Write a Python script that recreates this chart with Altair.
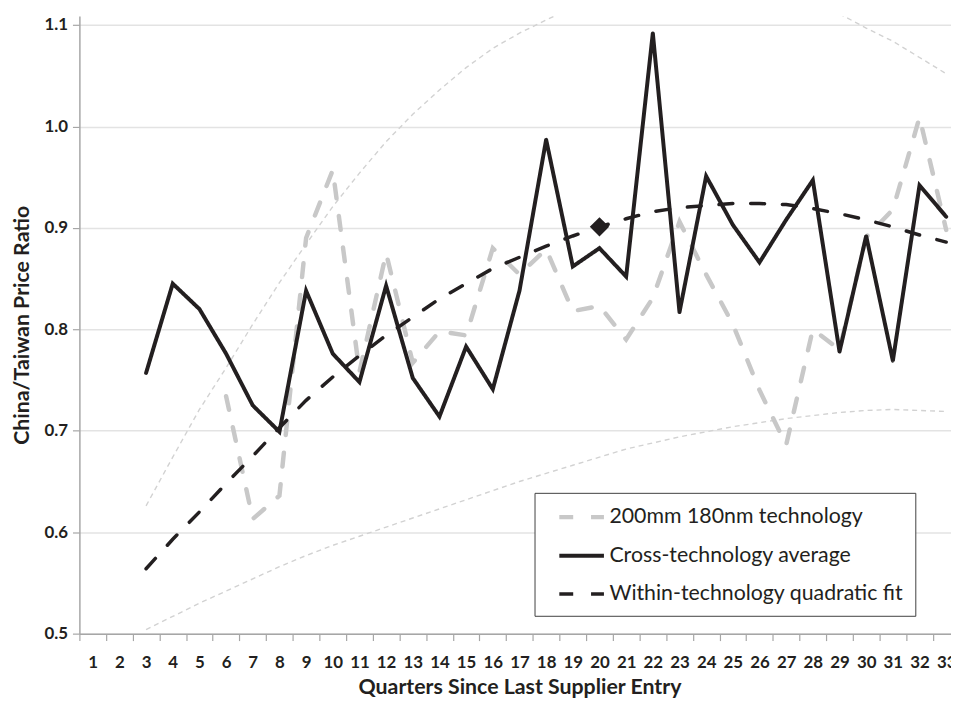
import altair as alt
import pandas as pd

# ---------------- data ----------------
avg_quarters = list(range(3, 34))
avg_values = [0.757, 0.845, 0.820, 0.776, 0.725, 0.699, 0.838, 0.776, 0.748, 0.843,
              0.752, 0.714, 0.783, 0.741, 0.838, 0.987, 0.862, 0.880, 0.852, 1.092,
              0.817, 0.951, 0.903, 0.866, 0.908, 0.947, 0.778, 0.892, 0.769, 0.942,
              0.911]

tech_quarters = list(range(6, 34))
tech_values = [0.734, 0.613, 0.636, 0.890, 0.957, 0.758, 0.875, 0.767, 0.798, 0.794,
               0.880, 0.854, 0.879, 0.818, 0.823, 0.790, 0.831, 0.906, 0.854, 0.805,
               0.740, 0.686, 0.800, 0.780, 0.891, 0.918, 1.009, 0.898]

fit_quarters = list(range(3, 34))
fit_values = [0.564, 0.593, 0.620, 0.648, 0.675, 0.703, 0.730, 0.753, 0.774, 0.794,
              0.812, 0.830, 0.845, 0.860, 0.871, 0.882, 0.892, 0.901, 0.909, 0.916,
              0.920, 0.922, 0.924, 0.924, 0.923, 0.919, 0.914, 0.908, 0.901, 0.893,
              0.886]

ci_quarters = list(range(3, 34))
ci_upper = [0.626, 0.674, 0.721, 0.762, 0.805, 0.846, 0.884, 0.921, 0.954, 0.985,
            1.012, 1.036, 1.058, 1.077, 1.092, 1.105, 1.117, 1.126, 1.136, 1.145,
            1.146, 1.147, 1.144, 1.139, 1.132, 1.123, 1.111, 1.097, 1.084, 1.068,
            1.052]
ci_lower = [0.504, 0.517, 0.530, 0.542, 0.554, 0.566, 0.577, 0.587, 0.596, 0.605,
            0.614, 0.623, 0.632, 0.641, 0.650, 0.658, 0.666, 0.674, 0.682, 0.688,
            0.694, 0.699, 0.704, 0.708, 0.712, 0.715, 0.718, 0.720, 0.721, 0.720,
            0.719]

marker_quarter = [20]
marker_value = [0.901]

series_names = ["200mm 180nm technology", "Cross-technology average",
                "Within-technology quadratic fit"]
x_ticks = list(range(1, 34))
y_ticks = [0.5, 0.6, 0.7, 0.8, 0.9, 1.0, 1.1]

# ---------------- tables ----------------
main_df = pd.concat([
    pd.DataFrame({"q": tech_quarters, "v": tech_values, "series": series_names[0], "o": 0}),
    pd.DataFrame({"q": avg_quarters, "v": avg_values, "series": series_names[1], "o": 1}),
    pd.DataFrame({"q": fit_quarters, "v": fit_values, "series": series_names[2], "o": 2}),
], ignore_index=True)

ci_df = pd.concat([
    pd.DataFrame({"q": ci_quarters, "v": ci_upper, "bound": "upper"}),
    pd.DataFrame({"q": ci_quarters, "v": ci_lower, "bound": "lower"}),
], ignore_index=True)

marker_df = pd.DataFrame({"q": marker_quarter, "v": marker_value})

FONT = "Lato"
INK = "#231f20"
W = 879
H = 623
X_MAX = 33.18
UNIT = W / (X_MAX - 0.5)
NBSP = "\u00a0"

x_scale = alt.Scale(domain=[0.5, X_MAX], nice=False, zero=False)
y_scale = alt.Scale(domain=[0.5, 1.109], nice=False, zero=False)

x_axis = alt.Axis(values=x_ticks, tickOffset=-UNIT / 2, labelOffset=UNIT / 2,
                  grid=False, tickSize=7, tickColor="#a6a6a6", domainColor="#a6a6a6",
                  domainWidth=1.5, tickWidth=1.2, labelFont=FONT, labelFontWeight="bold",
                  labelFontSize=17, labelColor=INK, labelPadding=14, labelFlush=False,
                  labelOverlap=False, title="Quarters Since Last Supplier Entry",
                  titleFont=FONT, titleFontWeight="bold", titleFontSize=21.5,
                  titleColor=INK, titlePadding=6, titleX=33 * UNIT / 2)

y_axis = alt.Axis(values=y_ticks, format=".1f", grid=True, gridColor="#e3e3e3",
                  gridWidth=1.5, tickSize=7, tickColor="#a6a6a6", domainColor="#a6a6a6",
                  domainWidth=1.5, tickWidth=1.2, labelFont=FONT, labelFontWeight="bold",
                  labelFontSize=17, labelColor=INK, labelPadding=5,
                  title="China/Taiwan Price Ratio", titleFont=FONT, titleFontWeight="bold",
                  titleFontSize=21.5, titleColor=INK, titlePadding=11)

x_enc = alt.X("q:Q", scale=x_scale, axis=x_axis)
y_enc = alt.Y("v:Q", scale=y_scale, axis=y_axis)

ci_layer = alt.Chart(ci_df).mark_line(
    clip=True, color="#d2d2d2", strokeWidth=1.4, strokeDash=[5, 4]
).encode(x=x_enc, y=y_enc, detail="bound:N")

legend = alt.Legend(title=None, orient="none", legendX=459, legendY=481,
                    symbolType="M-2,0H2", symbolSize=506.25, symbolOffset=23,
                    padding=11, labelOffset=14.5, labelFont=FONT, labelFontSize=21.5,
                    labelColor=INK, labelLimit=500, rowPadding=15,
                    labelExpr="datum.label + '" + NBSP * 3 + "'",
                    strokeColor="#404040", fillColor="white")

main_layer = alt.Chart(main_df).mark_line(clip=True, strokeCap="round").encode(
    x=x_enc, y=y_enc,
    color=alt.Color("series:N", scale=alt.Scale(domain=series_names,
                                                range=["#c8c8c8", INK, INK]),
                    legend=legend),
    strokeDash=alt.StrokeDash("series:N", scale=alt.Scale(domain=series_names,
                                                          range=[[14, 18], [1, 0], [14, 18]]),
                              legend=legend),
    strokeWidth=alt.StrokeWidth("series:N", scale=alt.Scale(domain=series_names,
                                                            range=[4.5, 3.5, 5]),
                                legend=legend),
    order="o:Q",
)

marker_layer = alt.Chart(marker_df).mark_point(
    shape="diamond", filled=True, size=380, color=INK, opacity=1
).encode(x=x_enc, y=y_enc)

chart = alt.layer(ci_layer, main_layer, marker_layer).properties(
    width=W, height=H,
    padding={"left": 72, "top": 5, "right": 0, "bottom": 67},
    autosize=alt.AutoSizeParams(type="none"),
    background="white",
).configure_view(stroke=None)

chart.save("out.html", embed_options={"renderer": "svg", "actions": False})
